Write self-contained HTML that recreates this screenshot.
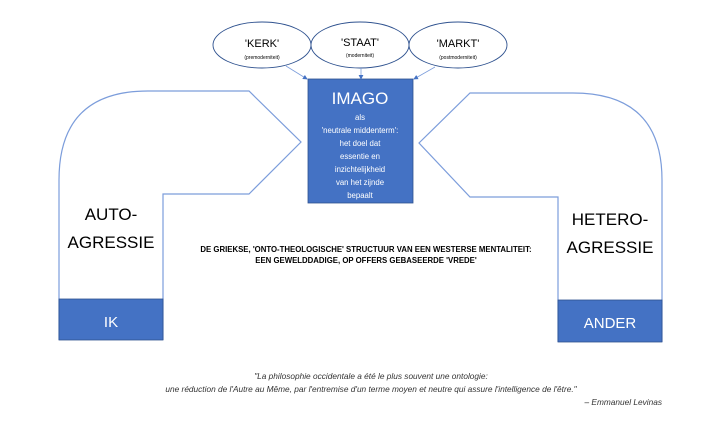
<!DOCTYPE html>
<html><head><style>
body{margin:0;width:720px;height:420px;background:#fff;overflow:hidden}
svg text{font-family:"Liberation Sans",sans-serif}
</style></head><body>
<svg width="720" height="420" xmlns="http://www.w3.org/2000/svg">
<defs><marker id="a" markerWidth="6" markerHeight="6" refX="5" refY="3" orient="auto"><path d="M0,0 L6,3 L0,6z" fill="#4472c4"/></marker></defs>
<path d="M59,340 L59,180 Q59,91 148,91 L249,91 L301,142 L249,194 L163,194 L163,340" fill="#fff" stroke="#7c9ddb" stroke-width="1.2"/>
<path d="M662,342 L662,180 Q662,93 573,93 L470,93 L419,143 L470,197 L558,197 L558,342" fill="#fff" stroke="#7c9ddb" stroke-width="1.2"/>
<rect x="59" y="299" width="104" height="41" fill="#4472c4" stroke="#2f528f" stroke-width="0.8"/>
<rect x="558" y="300" width="104" height="42" fill="#4472c4" stroke="#2f528f" stroke-width="0.8"/>
<text x="111" y="327" fill="#fff" font-size="15" text-anchor="middle">IK</text>
<text x="610" y="328" fill="#fff" font-size="15" text-anchor="middle">ANDER</text>
<text x="111" y="220" font-size="17" text-anchor="middle">AUTO-</text>
<text x="111" y="248" font-size="17" text-anchor="middle">AGRESSIE</text>
<text x="610" y="225" font-size="17" text-anchor="middle">HETERO-</text>
<text x="610" y="253" font-size="17" text-anchor="middle">AGRESSIE</text>
<rect x="308" y="79" width="105" height="124" fill="#4472c4" stroke="#2f528f" stroke-width="0.8"/>
<g fill="#fff" text-anchor="middle" font-size="7.8">
<text x="360" y="104" font-size="17">IMAGO</text>
<text x="360" y="120">als</text>
<text x="360" y="133">'neutrale middenterm':</text>
<text x="360" y="146">het doel dat</text>
<text x="360" y="159">essentie en</text>
<text x="360" y="172">inzichtelijkheid</text>
<text x="360" y="185">van het zijnde</text>
<text x="360" y="198">bepaalt</text>
</g>
<g fill="#fff" stroke="#2f528f" stroke-width="0.9">
<ellipse cx="262" cy="45" rx="49" ry="23"/>
<ellipse cx="458" cy="45" rx="49" ry="23"/>
<ellipse cx="360" cy="45" rx="49" ry="23"/>
</g>
<g text-anchor="middle">
<text x="262" y="47" font-size="11">'KERK'</text><text x="262" y="59" font-size="5">(premoderniteit)</text>
<text x="360" y="46" font-size="11">'STAAT'</text><text x="360" y="57" font-size="5">(moderniteit)</text>
<text x="458" y="47" font-size="11">'MARKT'</text><text x="458" y="59" font-size="5">(postmoderniteit)</text>
</g>
<g stroke="#7c9ddb" stroke-width="0.8" marker-end="url(#a)">
<line x1="286" y1="66" x2="307" y2="79"/>
<line x1="361" y1="68" x2="361" y2="79"/>
<line x1="435" y1="67" x2="414" y2="79"/>
</g>
<g font-size="7.8" font-weight="bold" text-anchor="middle">
<text x="366" y="252">DE GRIEKSE, 'ONTO-THEOLOGISCHE' STRUCTUUR VAN EEN WESTERSE MENTALITEIT:</text>
<text x="366" y="263">EEN GEWELDDADIGE, OP OFFERS GEBASEERDE 'VREDE'</text>
</g>
<g font-size="8.3" font-style="italic" fill="#333">
<text x="371" y="379" text-anchor="middle">"La philosophie occidentale a été le plus souvent une ontologie:</text>
<text x="371" y="392" text-anchor="middle">une réduction de l'Autre au Même, par l'entremise d'un terme moyen et neutre qui assure l'intelligence de l'être."</text>
<text x="662" y="405" text-anchor="end">– Emmanuel Levinas</text>
</g>
</svg>
</body></html>
